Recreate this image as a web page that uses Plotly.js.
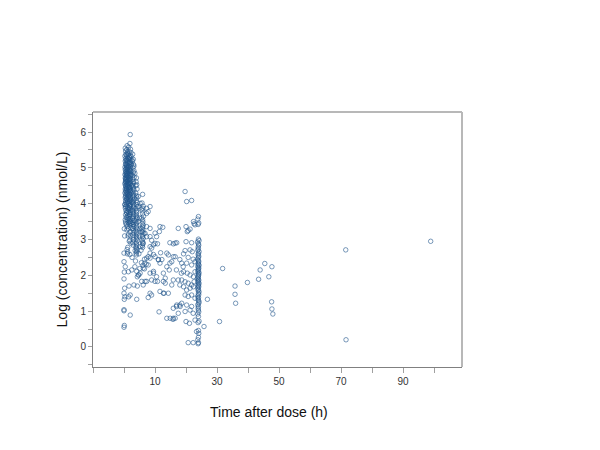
<!DOCTYPE html>
<html>
<head>
<meta charset="utf-8">
<script src="https://cdn.plot.ly/plotly-3.0.1.min.js"></script>
<style>
  body { margin: 0; background: #fff; }
  #plot { width: 600px; height: 450px; }
</style>
</head>
<body>
<div id="plot"></div>
<script>
// time after dose (h) / log concentration (nmol/L), grouped by sampling time

var predoseTime = [0, 0.1, 0, 0.2, 0, 0.1, 0, 0, 0.1, 0, 0.3, 0.2, 0, 0.1];
var predoseConc = [2.38, 2.09, 1.9, 1.64, 1.5, 1.33, 1.04, 1.01, 0.6, 0.55, 1.4, 3.1, 2.62, 3.3];

var h05Time = [
  0.4, 0.5, 0.6, 0.3, 0.5, 0.7, 0.4, 0.6, 0.5, 0.8,
  0.3, 0.6, 0.4, 0.7, 0.5, 0.6, 0.3, 0.8, 0.5, 0.4,
  0.6, 0.5, 0.7, 0.4, 0.3, 0.5, 0.6, 0.8, 0.4, 0.5,
  0.7, 0.3, 0.6, 0.5, 0.4, 0.7, 0.5, 0.6, 0.3, 0.5,
  0.4, 0.6, 0.8, 0.5, 0.7, 0.4, 0.5, 0.6, 0.3, 0.5
];
var h05Conc = [
  5.55, 5.47, 5.38, 5.33, 5.26, 5.21, 5.19, 5.12, 5.09, 5.04,
  5.02, 4.97, 4.95, 4.9, 4.88, 4.83, 4.81, 4.79, 4.74, 4.71,
  4.68, 4.66, 4.6, 4.58, 4.55, 4.5, 4.47, 4.43, 4.41, 4.36,
  4.33, 4.3, 4.26, 4.21, 4.17, 4.12, 4.08, 4.03, 3.98, 3.92,
  3.88, 3.81, 3.75, 3.69, 3.62, 3.55, 3.49, 3.44, 3.97, 4.62
];

var h1Time = [
  1.0, 0.9, 1.1, 1.2, 0.8, 1.0, 1.3, 0.9, 1.1, 1.0,
  1.2, 0.8, 1.0, 1.4, 0.9, 1.1, 1.0, 1.2, 1.3, 0.9,
  1.0, 1.1, 0.8, 1.2, 1.0, 0.9, 1.3, 1.1, 1.0, 1.2,
  0.9, 1.0, 1.1, 1.4, 0.8, 1.0, 1.2, 0.9, 1.1, 1.0,
  1.3, 1.0, 0.9, 1.1, 1.2, 1.0, 0.8, 1.1, 1.3, 1.0,
  0.9, 1.2, 1.0, 1.1, 1.4, 0.9, 1.0, 1.2, 1.1, 1.0
];
var h1Conc = [
  5.62, 5.51, 5.44, 5.4, 5.36, 5.31, 5.27, 5.24, 5.2, 5.17,
  5.14, 5.1, 5.07, 5.05, 5.01, 4.99, 4.96, 4.93, 4.9, 4.86,
  4.85, 4.82, 4.78, 4.76, 4.73, 4.69, 4.67, 4.64, 4.61, 4.57,
  4.54, 4.52, 4.48, 4.45, 4.42, 4.39, 4.35, 4.32, 4.28, 4.25,
  4.21, 4.18, 4.14, 4.11, 4.06, 4.02, 3.96, 3.91, 3.86, 3.8,
  3.74, 3.67, 3.61, 3.55, 3.48, 3.42, 3.36, 2.65, 2.6, 2.72
];

var h15Time = [
  1.5, 1.6, 1.4, 1.7, 1.5, 1.8, 1.6, 1.5, 1.4, 1.7,
  1.6, 1.5, 1.8, 1.4, 1.6, 1.7, 1.5, 1.6, 1.4, 1.8,
  1.5, 1.7, 1.6, 1.5, 1.4, 1.6, 1.7, 1.5, 1.8, 1.6,
  1.5, 1.4, 1.7, 1.6, 1.5, 1.8, 1.6, 1.4, 1.5, 1.7
];
var h15Conc = [
  5.58, 5.46, 5.37, 5.3, 5.25, 5.16, 5.13, 5.06, 5.0, 4.94,
  4.89, 4.85, 4.8, 4.75, 4.7, 4.65, 4.6, 4.56, 4.52, 4.46,
  4.4, 4.37, 4.3, 4.24, 4.19, 4.13, 4.07, 4.01, 3.95, 3.89,
  3.83, 3.77, 3.7, 3.64, 3.58, 3.5, 3.43, 3.3, 3.15, 2.95
];

var h2Time = [
  2.0, 1.9, 2.1, 2.2, 2.0, 2.3, 1.9, 2.1, 2.0, 2.2,
  2.4, 2.0, 1.9, 2.1, 2.2, 2.0, 2.3, 2.1, 1.9, 2.0,
  2.2, 2.1, 2.0, 2.4, 1.9, 2.0, 2.2, 2.1, 2.3, 2.0,
  1.9, 2.1, 2.2, 2.0, 2.4, 2.1, 2.0, 1.9, 2.2, 2.1,
  2.0, 2.3, 1.9, 2.1, 2.0, 2.2, 2.4, 2.0, 2.1, 1.9
];
var h2Conc = [
  5.93, 5.68, 5.52, 5.43, 5.35, 5.32, 5.28, 5.22, 5.15, 5.11,
  5.08, 5.03, 4.98, 4.93, 4.9, 4.84, 4.81, 4.77, 4.72, 4.68,
  4.63, 4.58, 4.55, 4.5, 4.46, 4.42, 4.37, 4.34, 4.29, 4.25,
  4.2, 4.16, 4.11, 4.07, 4.03, 3.98, 3.93, 3.87, 3.82, 3.77,
  3.7, 3.64, 3.58, 3.51, 3.45, 3.38, 3.31, 3.22, 3.1, 2.98
];

var h3Time = [
  2.8, 3.0, 2.7, 3.1, 2.9, 3.2, 3.0, 2.8, 3.3, 2.9,
  3.0, 3.1, 2.7, 2.9, 3.0, 3.2, 2.8, 3.0, 3.1, 2.9,
  3.4, 3.0, 2.8, 2.9, 3.1, 3.0, 3.2, 2.7, 3.0, 2.9,
  3.1, 3.0, 2.8, 3.3, 2.9, 3.0, 3.1, 2.8, 3.0, 3.2,
  2.9, 3.0, 3.1, 2.8, 3.0
];
var h3Conc = [
  5.38, 5.24, 5.18, 5.09, 5.01, 4.92, 4.87, 4.79, 4.74, 4.69,
  4.62, 4.57, 4.51, 4.47, 4.43, 4.38, 4.33, 4.28, 4.23, 4.19,
  4.14, 4.1, 4.06, 4.02, 3.97, 3.92, 3.88, 3.83, 3.79, 3.74,
  3.69, 3.64, 3.59, 3.53, 3.48, 3.42, 3.37, 3.31, 3.25, 3.19,
  3.12, 3.06, 2.99, 2.91, 2.84
];

var h4Time = [
  4.0, 3.9, 4.1, 4.2, 3.8, 4.0, 4.1, 3.9, 4.3, 4.0,
  4.2, 3.8, 4.0, 4.1, 3.9, 4.0, 4.2, 4.1, 3.7, 4.0,
  3.9, 4.1, 4.0, 4.3, 3.8, 4.0, 4.2, 3.9, 4.1, 4.0,
  4.4, 3.9, 4.0, 4.1, 3.8, 4.0, 4.2, 4.1, 3.9, 4.0
];
var h4Conc = [
  4.72, 4.61, 4.53, 4.41, 4.3, 4.22, 4.16, 4.08, 4.03, 3.97,
  3.91, 3.86, 3.8, 3.76, 3.71, 3.66, 3.61, 3.57, 3.52, 3.47,
  3.43, 3.38, 3.33, 3.29, 3.24, 3.2, 3.15, 3.1, 3.06, 3.01,
  2.97, 2.92, 2.88, 2.83, 2.79, 2.75, 2.71, 2.66, 2.62, 2.57
];

var h6Time = [
  6.0, 5.8, 6.2, 6.1, 5.9, 6.0, 6.3, 5.7, 6.0, 6.1,
  5.9, 6.2, 6.0, 5.8, 6.1, 6.0, 6.4, 5.9, 6.0, 6.2,
  5.8, 6.0, 6.1, 5.9, 6.0
];
var h6Conc = [
  4.26, 4.02, 3.93, 3.87, 3.8, 3.72, 3.65, 3.6, 3.55, 3.49,
  3.44, 3.4, 3.35, 3.3, 3.26, 3.21, 3.17, 3.12, 3.08, 3.03,
  2.98, 2.93, 2.88, 2.83, 2.78
];

// scattered samples between the nominal times
var midTime = [
  2.0, 1.5, 2.0, 4.1, 7.8, 11.3, 13.8, 15.9, 17.5, 16.9,
  18.0, 5.7, 6.8, 8.9, 10.0, 10.8, 8.4, 9.5, 5.2, 6.2,
  4.1, 4.6, 5.2, 6.2, 7.3, 8.4, 5.7, 6.8, 7.3, 5.2,
  7.3, 8.4, 7.3, 7.8, 11.6, 12.5, 11.4, 14.8, 16.5, 17.5,
  10.0, 10.5, 8.4, 8.9, 10.0, 10.8, 8.4, 7.8, 8.9, 7.3,
  6.7, 9.5, 10.0, 11.1, 11.6, 12.2, 13.8, 14.8, 12.7, 13.3,
  15.9, 16.9, 18.0, 19.1, 18.5, 17.5, 18.0, 15.9, 15.4, 14.3,
  12.7, 11.6, 19.7, 20.2, 21.8, 20.0, 20.7, 21.3, 20.4, 22.6,
  22.4, 22.9, 20.0, 21.8, 19.7, 21.3, 22.0, 19.2, 20.7, 22.3,
  18.6, 20.2, 21.8, 22.9, 19.2, 20.4, 21.3, 22.4, 22.9, 18.6,
  19.7, 20.7, 21.8, 22.6, 19.2, 20.2, 21.3, 22.4, 19.7, 20.7,
  21.8, 22.9, 18.6, 20.2, 21.8, 19.7, 21.3, 22.3, 20.0, 21.1,
  22.9, 23.4, 20.7, 22.3, 15.9, 17.0, 8.4, 9.5, 11.8, 11.1,
  14.3, 15.4, 16.5, 13.8, 14.6, 9.5, 10.5, 12.7, 13.3, 6.2,
  7.3, 8.4, 8.9, 15.9, 17.0, 18.1, 14.9, 15.8, 16.5, 12.9,
  4.3, 1.6, 3.2, 6.1, 6.6, 7.8, 8.4, 4.3, 4.8, 0.4,
  1.4, 2.5, 3.5, 5.1, 5.6, 6.6, 7.2, 1.2, 1.9, 2.6,
  3.7, 4.8, 5.5, 2.2, 3.6, 4.9, 5.2, 2.4, 1.3, 0.9,
  4.5, 5.0, 5.6, 4.7, 3.8, 4.6, 3.5, 3.2, 2.6
];
var midConc = [
  0.89, 1.4, 1.45, 1.33, 1.38, 0.98, 0.8, 0.8, 0.94, 1.13,
  1.17, 1.83, 1.83, 1.87, 1.83, 1.83, 2.06, 2.11, 2.06, 2.2,
  2.11, 2.01, 2.8, 2.9, 3.36, 3.31, 3.22, 3.17, 3.08, 4.01,
  3.87, 3.92, 3.73, 3.78, 3.36, 3.34, 3.22, 2.91, 2.9, 3.31,
  3.18, 3.08, 3.08, 2.98, 2.89, 2.88, 2.62, 2.52, 2.76, 2.48,
  2.34, 2.58, 2.52, 2.44, 2.34, 2.44, 2.62, 2.34, 2.06, 1.92,
  2.52, 2.15, 2.44, 2.24, 2.06, 1.87, 1.73, 1.87, 1.73, 1.5,
  1.5, 1.55, 4.34, 4.06, 4.09, 3.36, 3.25, 3.29, 3.22, 3.44,
  3.5, 3.41, 2.94, 2.91, 2.69, 2.71, 2.66, 2.6, 2.5, 2.45,
  2.34, 2.34, 2.29, 2.38, 2.1, 2.06, 2.01, 1.96, 2.1, 1.87,
  1.82, 1.78, 1.73, 1.82, 1.68, 1.59, 1.64, 1.68, 1.45, 1.41,
  1.45, 1.36, 1.22, 1.17, 1.13, 0.99, 1.03, 0.94, 0.71, 0.66,
  0.75, 0.43, 0.12, 0.12, 2.88, 2.91, 2.8, 2.85, 2.63, 2.43,
  2.57, 2.38, 2.52, 2.24, 2.15, 2.06, 1.96, 1.83, 1.78, 1.73,
  1.83, 1.5, 1.45, 1.08, 1.17, 1.13, 0.8, 0.77, 0.8, 1.5,
  1.7, 1.7, 1.73, 2.28, 2.18, 2.29, 2.48, 1.96, 2.01, 2.24,
  2.1, 2.15, 2.24, 2.19, 2.35, 2.45, 2.31, 2.78, 2.58, 2.5,
  2.4, 2.6, 2.7, 2.9, 2.69, 3.1, 3.3, 3.45, 3.1, 3.27,
  3.5, 3.6, 3.85, 3.92, 4.5, 4.2, 4.85, 5.05, 5.22
];

var h24Time = [
  24.0, 23.8, 24.1, 23.9, 24.0, 24.2, 23.7, 24.0, 24.1, 23.9,
  24.0, 23.8, 24.2, 24.0, 23.9, 24.1, 24.0, 23.7, 24.0, 24.1,
  23.9, 24.0, 24.2, 23.8, 24.0, 24.1, 23.9, 24.0, 23.8, 24.2,
  24.0, 24.1, 23.9, 24.0, 23.7, 24.0, 24.1, 23.8, 24.0, 24.2,
  23.9, 24.0, 24.1, 23.8, 24.0, 23.9, 24.2, 24.0, 24.1, 23.8,
  24.0, 23.9, 24.0, 24.2, 24.1, 23.8, 24.0, 23.9, 24.0, 24.1,
  23.8, 24.0, 24.2, 23.9, 24.0, 24.1, 24.0, 23.8, 24.0, 23.9
];
var h24Conc = [
  3.64, 3.57, 3.46, 3.42, 3.01, 2.97, 2.93, 2.88, 2.84, 2.79,
  2.74, 2.7, 2.66, 2.61, 2.57, 2.53, 2.49, 2.45, 2.41, 2.38,
  2.34, 2.31, 2.28, 2.25, 2.22, 2.19, 2.16, 2.13, 2.1, 2.07,
  2.04, 2.01, 1.98, 1.95, 1.92, 1.89, 1.86, 1.83, 1.8, 1.77,
  1.74, 1.71, 1.68, 1.65, 1.61, 1.58, 1.54, 1.5, 1.46, 1.42,
  1.38, 1.34, 1.3, 1.26, 1.22, 1.18, 1.13, 1.08, 1.03, 0.98,
  0.92, 0.85, 0.72, 0.68, 0.46, 0.38, 0.27, 0.2, 0.12, 0.09
];

var lateTime = [25.8, 26.9, 30.8, 31.8, 35.8, 35.8, 36.0, 39.8, 43.4, 43.9, 45.4, 47.7, 46.7, 47.6, 47.7, 48.0, 71.5, 71.6, 98.9];
var lateConc = [0.57, 1.33, 0.71, 2.19, 1.70, 1.47, 1.22, 1.80, 1.89, 2.15, 2.33, 2.24, 1.96, 1.26, 1.06, 0.92, 2.71, 0.20, 2.95];

var xTickVals = [10, 30, 50, 70, 90];
var yTickVals = [0, 1, 2, 3, 4, 5, 6];

var allTime = [].concat(predoseTime, h05Time, h1Time, h15Time, h2Time, h3Time, h4Time, h6Time, midTime, h24Time, lateTime);
var allConc = [].concat(predoseConc, h05Conc, h1Conc, h15Conc, h2Conc, h3Conc, h4Conc, h6Conc, midConc, h24Conc, lateConc);

var trace = {
  x: allTime,
  y: allConc,
  type: 'scatter',
  mode: 'markers',
  marker: {
    symbol: 'circle-open',
    size: 4.5,
    color: '#22558c',
    line: { width: 0.6 }
  },
  hoverinfo: 'x+y'
};

var font = 'Liberation Sans, Arial, sans-serif';

var layout = {
  width: 600,
  height: 450,
  margin: { l: 93, r: 138, t: 112, b: 83 },
  paper_bgcolor: '#fff',
  plot_bgcolor: '#fff',
  showlegend: false,
  font: { family: font, color: '#222' },
  xaxis: {
    range: [-10, 109],
    tickmode: 'array',
    tickvals: xTickVals,
    ticktext: xTickVals.map(String),
    ticks: 'outside',
    ticklen: 5,
    tickcolor: '#a0a0a0',
    minor: { dtick: 10, tick0: 0, ticks: 'outside', ticklen: 5, tickcolor: '#a0a0a0' },
    tickfont: { size: 10, color: '#333' },
    showline: true,
    linecolor: '#808080',
    linewidth: 1,
    showgrid: false,
    zeroline: false
  },
  yaxis: {
    range: [-0.56, 6.56],
    tickmode: 'array',
    tickvals: yTickVals,
    ticktext: yTickVals.map(String),
    ticks: 'outside',
    ticklen: 4,
    tickcolor: '#a0a0a0',
    minor: { dtick: 0.5, tick0: 0, ticks: 'outside', ticklen: 4, tickcolor: '#a0a0a0' },
    tickfont: { size: 10, color: '#333' },
    showline: true,
    linecolor: '#808080',
    linewidth: 1,
    showgrid: false,
    zeroline: false,
    title: { text: 'Log (concentration) (nmol/L)', font: { size: 14, color: '#111' }, standoff: 9 }
  },
  annotations: [
    {
      text: 'Time after dose (h)',
      xref: 'paper', yref: 'paper',
      x: 0.477, y: -0.176,
      xanchor: 'center', yanchor: 'middle',
      showarrow: false,
      font: { size: 14, color: '#111' }
    }
  ],
  shapes: [
    { type: 'line', xref: 'paper', yref: 'paper', x0: 0, x1: 1, y0: 1, y1: 1, line: { color: '#b8b8b8', width: 2 } },
    { type: 'line', xref: 'paper', yref: 'paper', x0: 1, x1: 1, y0: 0, y1: 1, line: { color: '#b8b8b8', width: 2 } }
  ]
};

Plotly.newPlot('plot', [trace], layout, { displayModeBar: false, staticPlot: true });
</script>
</body>
</html>
